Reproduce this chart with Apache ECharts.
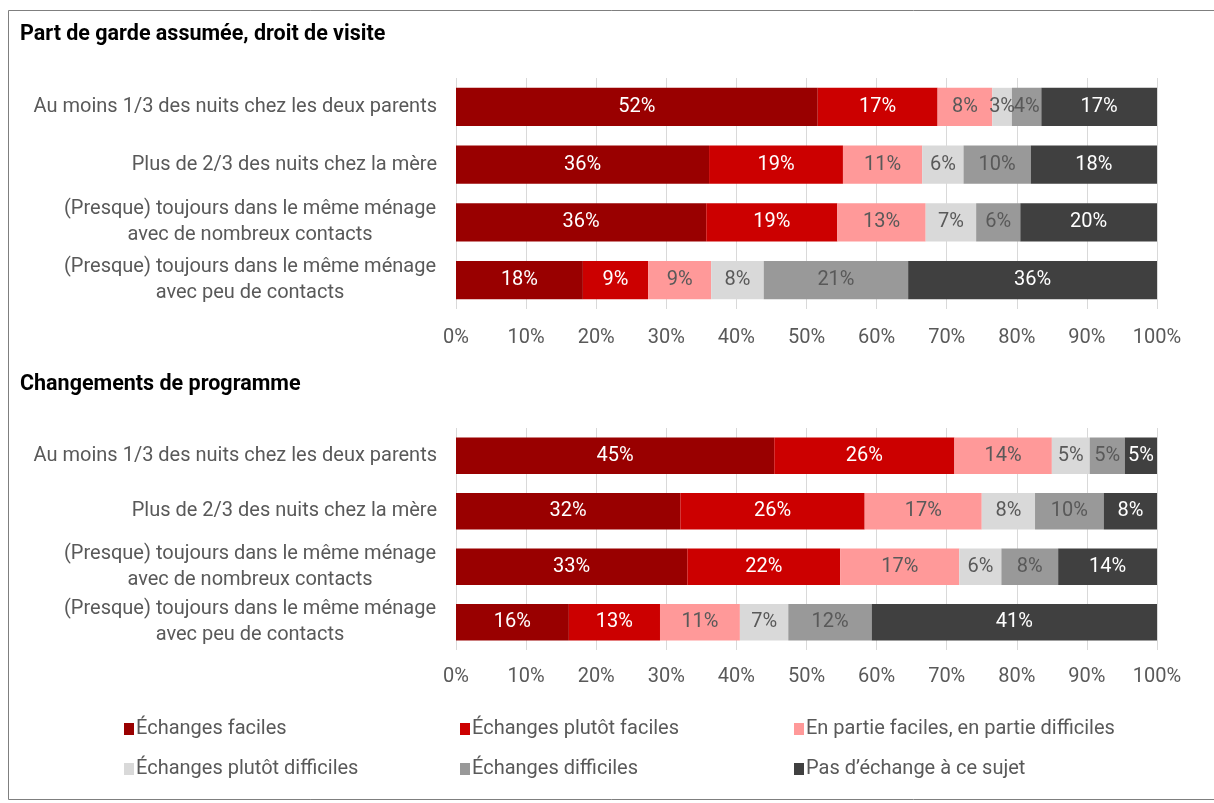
<!DOCTYPE html>
<html>
<head>
<meta charset="utf-8">
<script src="https://cdn.jsdelivr.net/npm/echarts@6/dist/echarts.min.js"></script>
<style>
  html, body { margin: 0; padding: 0; background: #ffffff; }
  #chart { width: 1214px; height: 803px; }
</style>
</head>
<body>
<div id="chart"></div>
<script>
// Row labels (shared by both panels)
const categories = [
  'Au moins 1/3 des nuits chez les deux parents',
  'Plus de 2/3 des nuits chez la mère',
  '(Presque) toujours dans le même ménage\navec de nombreux contacts',
  '(Presque) toujours dans le même ménage\navec peu de contacts'
];

// Answer categories
const seriesNames = [
  'Échanges faciles',
  'Échanges plutôt faciles',
  'En partie faciles, en partie difficiles',
  'Échanges plutôt difficiles',
  'Échanges difficiles',
  'Pas d’échange à ce sujet'
];

const panelTitles = ['Part de garde assumée, droit de visite', 'Changements de programme'];
const axisTicks = [0, 10, 20, 30, 40, 50, 60, 70, 80, 90, 100];

// Panel 1 – Part de garde assumée, droit de visite (percent of row)
const gardeFaciles          = [51.6, 36.1, 35.7, 18.1];
const gardePlutotFaciles    = [17.1, 19.1, 18.7, 9.3];
const gardeEnPartie         = [7.8, 11.3, 12.6, 9.0];
const gardePlutotDifficiles = [2.8, 5.9, 7.2, 7.5];
const gardeDifficiles       = [4.2, 9.6, 6.3, 20.6];
const gardePasEchange       = [16.5, 18.0, 19.5, 35.5];

// Panel 2 – Changements de programme (percent of row)
const progFaciles          = [45.4, 32.0, 33.0, 16.1];
const progPlutotFaciles    = [25.7, 26.3, 21.8, 13.0];
const progEnPartie         = [13.9, 16.7, 17.0, 11.4];
const progPlutotDifficiles = [5.4, 7.6, 6.0, 6.9];
const progDifficiles       = [5.0, 9.8, 8.1, 11.9];
const progPasEchange       = [4.6, 7.6, 14.1, 40.7];

const gardeData = [gardeFaciles, gardePlutotFaciles, gardeEnPartie, gardePlutotDifficiles, gardeDifficiles, gardePasEchange];
const progData  = [progFaciles, progPlutotFaciles, progEnPartie, progPlutotDifficiles, progDifficiles, progPasEchange];

const colors      = ['#990000', '#CC0000', '#FF9999', '#D9D9D9', '#999999', '#404040'];
const labelColors = ['#FFFFFF', '#FFFFFF', '#595959', '#595959', '#595959', '#FFFFFF'];

const FONT = 'Roboto, "Noto Sans", sans-serif';
const FS = 20;
const TEXT_GREY = '#595959';

// width of the longest line of the two-line row labels, so lines can be centred on each other
const measureCtx = document.createElement('canvas').getContext('2d');
measureCtx.font = FS + 'px ' + FONT;
let wrapWidth = 0;
categories.forEach(c => {
  const lines = c.split('\n');
  if (lines.length > 1) lines.forEach(l => { wrapWidth = Math.max(wrapWidth, measureCtx.measureText(l).width); });
});
wrapWidth = Math.ceil(wrapWidth) + 1;

function rowLabel(value) {
  const lines = value.split('\n');
  if (lines.length === 1) return value;
  return lines.map(l => '{c|' + l + '}').join('\n');
}

const grids = [
  { left: 456, right: 57, top: 78, height: 231 },
  { left: 456, right: 57, top: 428, height: 222 }
];

function xAxisFor(gi, margin) {
  return {
    type: 'value', gridIndex: gi, min: axisTicks[0], max: axisTicks[axisTicks.length - 1], interval: axisTicks[1] - axisTicks[0],
    axisLine: { show: false }, axisTick: { show: false },
    splitLine: { show: true, lineStyle: { color: '#D9D9D9', width: 1 } },
    axisLabel: { formatter: '{value}%', color: TEXT_GREY, fontSize: FS, fontFamily: FONT, margin: margin }
  };
}

function yAxisFor(gi) {
  return {
    type: 'category', gridIndex: gi, data: categories, inverse: true,
    axisLine: { show: false }, axisTick: { show: false },
    axisLabel: {
      color: TEXT_GREY, fontSize: FS, fontFamily: FONT, margin: 19, align: 'right', lineHeight: 26,
      formatter: rowLabel,
      rich: { c: { width: wrapWidth, align: 'center', color: TEXT_GREY, fontSize: FS, fontFamily: FONT, lineHeight: 26 } }
    }
  };
}

const series = [];
[gardeData, progData].forEach((panel, gi) => {
  panel.forEach((vals, si) => {
    series.push({
      name: seriesNames[si], type: 'bar', stack: 'p' + gi,
      xAxisIndex: gi, yAxisIndex: gi, barWidth: '66%',
      itemStyle: { color: colors[si] },
      label: {
        show: true, position: 'inside', color: labelColors[si], fontSize: FS, fontFamily: FONT,
        formatter: p => Math.round(p.value) + '%'
      },
      emphasis: { disabled: true },
      data: vals
    });
  });
});

const legendCols = [[0, 3], [1, 4], [2, 5]];
const legendLefts = [119, 455, 789];
const legends = legendCols.map((idx, k) => ({
  orient: 'vertical', left: legendLefts[k], top: 714, itemGap: 20,
  itemWidth: 10, itemHeight: 12, icon: 'rect',
  data: idx.map(i => seriesNames[i]),
  textStyle: { color: TEXT_GREY, fontSize: FS, fontFamily: FONT, padding: [0, 0, 0, -3] },
  selectedMode: false
}));

const option = {
  animation: false,
  backgroundColor: '#FFFFFF',
  color: colors,
  title: [
    { text: panelTitles[0], left: 15, top: 19, textStyle: { fontSize: 21.5, fontWeight: 'bold', color: '#000', fontFamily: FONT } },
    { text: panelTitles[1], left: 15, top: 369, textStyle: { fontSize: 21.5, fontWeight: 'bold', color: '#000', fontFamily: FONT } }
  ],
  graphic: [{
    type: 'rect', silent: true, z: -1,
    shape: { x: 8.5, y: 10.5, width: 1220, height: 789 },
    style: { fill: null, stroke: '#7F7F7F', lineWidth: 1 }
  }],
  legend: legends,
  grid: grids,
  xAxis: [xAxisFor(0, 19), xAxisFor(1, 17)],
  yAxis: [yAxisFor(0), yAxisFor(1)],
  series: series
};

const chart = echarts.init(document.getElementById('chart'), null, { renderer: 'canvas' });
chart.setOption(option);
</script>
</body>
</html>
